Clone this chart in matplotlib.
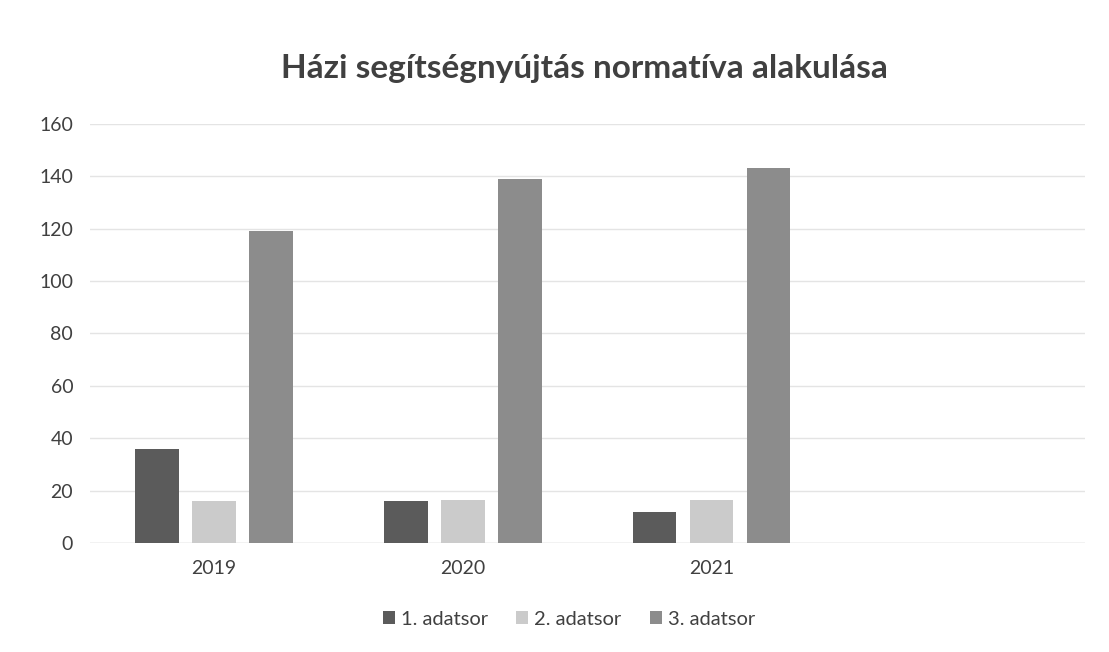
import matplotlib.pyplot as plt
import numpy as np

plt.rcParams['font.family'] = ['Lato', 'DejaVu Sans']

years = ['2019', '2020', '2021']
series_names = ['1. adatsor', '2. adatsor', '3. adatsor']
s1 = [36, 16, 12]
s2 = [16, 16.5, 16.5]
s3 = [119, 139, 143]
colors = ['#5b5b5b', '#cbcbcb', '#8c8c8c']

fig = plt.figure(figsize=(11.09, 6.52), dpi=100)
ax = fig.add_axes([0.081, 0.167, 0.897, 0.643])

x = np.arange(len(years))
w = 0.175
off = 0.229
for i, (vals, name) in enumerate(zip([s1, s2, s3], series_names)):
    ax.bar(x + (i - 1) * off, vals, w, color=colors[i], label=name, zorder=3)

ax.set_xlim(-0.5, 3.5)
ax.set_ylim(0, 160)
ax.set_yticks(range(0, 161, 20))
ax.set_xticks(x)
ax.set_xticklabels(years)
ax.grid(axis='y', color='#e4e4e4', linewidth=1, zorder=0)
for s in ax.spines.values():
    s.set_visible(False)
ax.axhline(0, color='#d9d9d9', linewidth=1, zorder=2)
ax.tick_params(length=0, labelsize=14, colors='#404040', pad=12)
ax.tick_params(axis='x', pad=12)

fig.text(0.527, 0.895, 'Házi segítségnyújtás normatíva alakulása', ha='center', va='center',
         fontsize=24, fontweight='bold', color='#404040')

fig.legend(loc='center', bbox_to_anchor=(0.513, 0.05), ncol=3, frameon=False,
           fontsize=14.5, handlelength=0.6, handleheight=0.6, handletextpad=0.3,
           columnspacing=1.4, labelcolor='#404040')

plt.savefig('out.png')
